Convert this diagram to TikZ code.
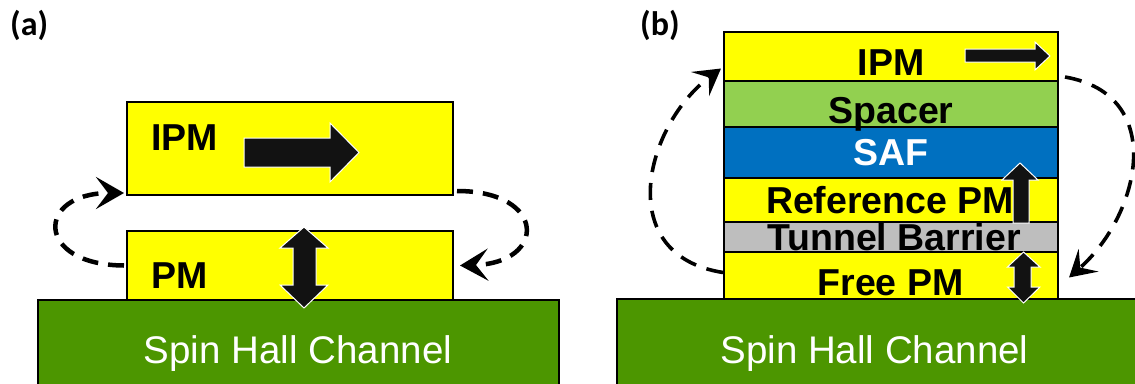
\documentclass[tikz,border=0pt]{standalone}
\usepackage{fontspec}
\setmainfont{Liberation Sans}
\newfontfamily\calib{Carlito}
\usetikzlibrary{arrows.meta}
\definecolor{lyel}{RGB}{255,255,0}
\definecolor{chgreen}{RGB}{76,150,0}
\definecolor{spgreen}{RGB}{146,208,80}
\definecolor{safblue}{RGB}{0,112,192}
\definecolor{tbgray}{RGB}{190,190,190}
\tikzset{
  layer/.style={draw=black, line width=2.8pt, anchor=north west, inner sep=0pt, outer sep=0pt},
  channel/.style={draw=black, line width=2.2pt, fill=chgreen, anchor=north west, inner sep=0pt, outer sep=0pt},
  lbl/.style={inner sep=0pt, anchor=base, font=\bfseries\fontsize{37.5}{40}\selectfont},
  chtext/.style={inner sep=0pt, anchor=base, text=white, font=\fontsize{38.5}{42}\selectfont},
  panel/.style={inner sep=0pt, anchor=base west, font=\calib\bfseries\fontsize{34}{38}\selectfont},
  blockarrow/.style={fill=black!93, draw=white, line width=1pt},
  loopA/.style={draw=black, line width=4.5pt, dash pattern=on 16pt off 10pt,
     -{Stealth[length=28pt, width=32pt, inset=12pt]}},
  loopB/.style={draw=black, line width=3.6pt, dash pattern=on 17pt off 11pt,
     -{Stealth[length=26pt, width=30pt, inset=11pt]}}
}
\begin{document}
\begin{tikzpicture}[x=1pt, y=-1pt]
\useasboundingbox (0,0) rectangle (1135,383);
% ---------- panel (a)
\node[panel] (la) at (10,35) {(a)};
\node[channel, minimum width=521pt, minimum height=90pt] (chA) at (38,300) {};
\node[layer, fill=lyel, minimum width=326pt, minimum height=93pt] (ipmA) at (127,102) {};
\node[layer, fill=lyel, minimum width=326pt, minimum height=69pt] (pmA) at (127,231) {};
\node[lbl, anchor=base west] (tipmA) at (151,150) {IPM};
\node[lbl, anchor=base west] (tpmA) at (151,288) {PM};
\node[chtext] (tchA) at (298,363) {Spin Hall Channel};
% block arrows (a)
\path[blockarrow] (244,138) -- (330,138) -- (330,123) -- (359,152.5) -- (330,182) -- (330,167) -- (244,167) -- cycle;
\path[blockarrow] (304,227) -- (328,248) -- (316,248) -- (316,285) -- (328,285) -- (304,308)
   -- (280,285) -- (293,285) -- (293,248) -- (280,248) -- cycle;
% dashed loops (a)
\draw[loopA] ([xshift=-3pt]pmA.west) .. controls (35,265) and (35,193) .. ([xshift=-3pt,yshift=2pt]ipmA.south west);
\draw[loopA] ([xshift=4pt,yshift=4pt]ipmA.south east) .. controls (547,191) and (547,263) .. ([xshift=7pt]pmA.east);
% ---------- panel (b)
\node[panel] (lb) at (640,35) {(b)};
\node[channel, minimum width=530pt, minimum height=90pt] (chB) at (617,299) {};
\node[layer, fill=lyel, minimum width=334pt, minimum height=49pt] (ipmB) at (724,32) {};
\node[layer, fill=spgreen, minimum width=334pt, minimum height=46pt] (spB) at (724,81) {};
\node[layer, fill=safblue, minimum width=334pt, minimum height=51pt] (safB) at (724,127) {};
\node[layer, fill=lyel, minimum width=334pt, minimum height=44pt] (refB) at (724,178) {};
\node[layer, fill=tbgray, minimum width=334pt, minimum height=30pt] (tbB) at (724,222) {};
\node[layer, fill=lyel, minimum width=334pt, minimum height=47pt] (freeB) at (724,252) {};
\node[lbl] (tipmB) at (891,75) {IPM};
\node[lbl] (tspB) at (891,123) {Spacer};
\node[lbl, text=white] (tsafB) at (891,165) {SAF};
\node[lbl] (trefB) at (890,213) {Reference PM};
\node[lbl] (ttbB) at (894,250) {Tunnel Barrier};
\node[lbl] (tfreeB) at (890.5,295) {Free PM};
\node[chtext] (tchB) at (874.5,363) {Spin Hall Channel};
% block arrows (b)
\path[blockarrow] (965,49) -- (1035,49) -- (1035,42) -- (1050,56) -- (1035,70) -- (1035,62) -- (965,62) -- cycle;
\path[blockarrow] (1020,163) -- (1038,180) -- (1029,180) -- (1029,223) -- (1013,223) -- (1013,180) -- (1002,180) -- cycle;
\path[blockarrow] (1023.5,252) -- (1040,267) -- (1031,267) -- (1031,287) -- (1040,287) -- (1023.5,303)
   -- (1007.5,287) -- (1014,287) -- (1014,267) -- (1007.5,267) -- cycle;
% dashed loops (b)
\draw[loopB] ([xshift=-1pt,yshift=3pt]freeB.west) .. controls (612,255) and (645,125) .. ([xshift=-3pt,yshift=-12pt]ipmB.west);
\draw[loopB] ([xshift=7pt,yshift=4pt]ipmB.south east) .. controls (1168,95) and (1140,215) .. ([xshift=11pt,yshift=-2pt]freeB.east);
\end{tikzpicture}
\end{document}
